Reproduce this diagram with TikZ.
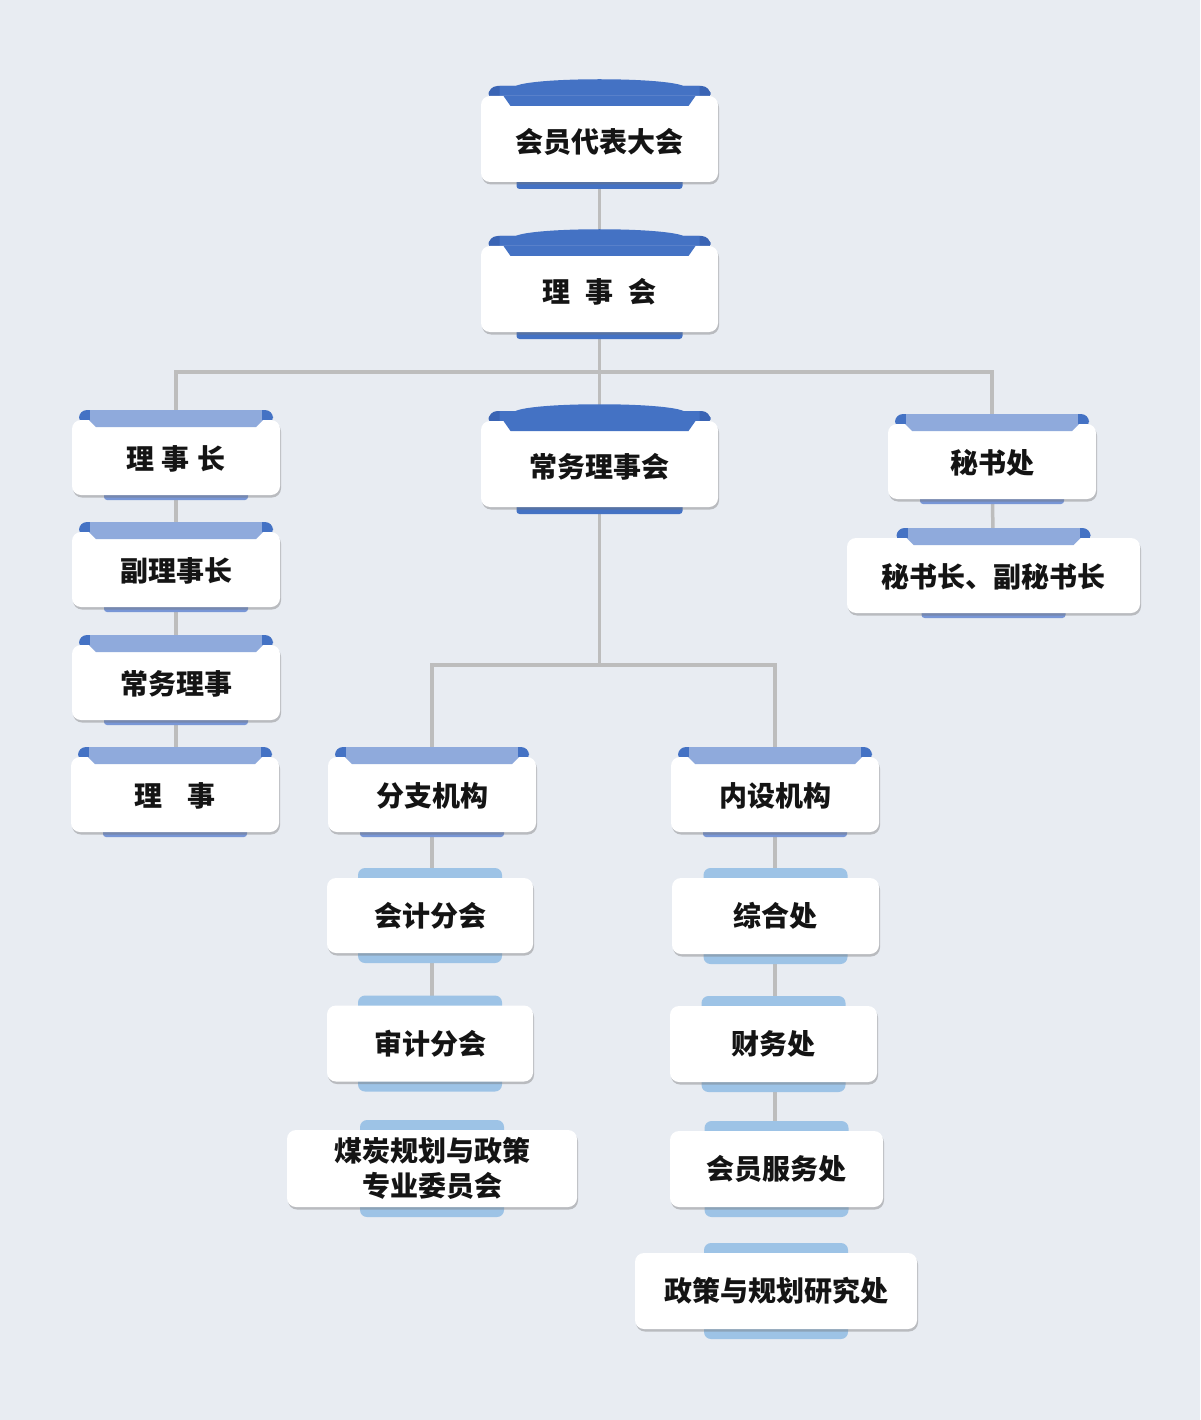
\documentclass[tikz,border=0pt]{standalone}
\usepackage{fontspec}
\newfontfamily\cjk{Noto Sans CJK SC}
\usetikzlibrary{shadows}
\definecolor{bgc}{HTML}{E8ECF2}
\definecolor{tabdark}{HTML}{4472C4}
\definecolor{tabdarkc}{HTML}{3A64B4}
\definecolor{tabmed}{HTML}{8FAADC}
\definecolor{tabmedbot}{HTML}{7896D6}
\definecolor{tablight}{HTML}{9DC3E6}
\definecolor{conncol}{HTML}{BDBDBD}
\pgfdeclarelayer{back}
\pgfdeclarelayer{lines}
\pgfsetlayers{back,lines,main}
\tikzset{
  wbox/.style={rectangle, rounded corners=9pt, fill=white, inner sep=0pt,
    font=\cjk\bfseries\fontsize{28}{35}\selectfont, text=black!92, align=center,
    drop shadow={opacity=0.4, shadow xshift=1pt, shadow yshift=-2.5pt, fill=black!55}},
  conn/.style={draw=conncol, line width=3.5pt}
}
% dark ribbon box: name, cx, cy, width, text
\newcommand{\DarkBox}[5]{%
  \fill[tabdarkc, rounded corners=9pt] ({#2-111},{#3-38}) rectangle ({#2+111},{#3-53});
  \fill[tabdark] ({#2-100},{#3-53}) -- ({#2-84},{#3-53})
     .. controls ({#2-64},{#3-62}) and ({#2+64},{#3-62}) .. ({#2+84},{#3-53})
     -- ({#2+100},{#3-53}) -- ({#2+100},{#3-40}) -- ({#2-100},{#3-40}) -- cycle;
  \fill[tabdark, rounded corners=3pt] ({#2-83},{#3+36}) rectangle ({#2+83},{#3+50});
  \node[wbox, minimum width=#4, minimum height=86] (#1) at (#2,#3) {\raisebox{-3pt}[\height][\depth]{#5}};
  \fill[tabdark] ({#2-96},{#3-43}) -- ({#2-89},{#3-33}) -- ({#2+89},{#3-33}) -- ({#2+96},{#3-43}) -- cycle;
}
% medium ribbon box
\newcommand{\MedBox}[5]{%
  \fill[tabdark, rounded corners=8pt] ({#2-97},{#3-33}) rectangle ({#2+97},{#3-47.5});
  \fill[tabmed] ({#2-86},{#3-47.5}) rectangle ({#2+86},{#3-36});
  \fill[tabmedbot, rounded corners=3pt] ({#2-72},{#3+30}) rectangle ({#2+72},{#3+42.5});
  \node[wbox, minimum width=#4, minimum height=75] (#1) at (#2,#3) {\raisebox{-1.5pt}[\height][\depth]{#5}};
  \fill[tabmed] ({#2-87},{#3-37.5}) -- ({#2-80},{#3-30.5}) -- ({#2+80},{#3-30.5}) -- ({#2+87},{#3-37.5}) -- cycle;
}
% light tab box
\newcommand{\LightBox}[6]{%
  \fill[tablight, rounded corners=7pt] ({#2-72},{#3-#5/2-10}) rectangle ({#2+72},{#3+#5/2+10});
  \node[wbox, minimum width=#4, minimum height=#5] (#1) at (#2,#3) {#6};
}
\begin{document}
\begin{tikzpicture}[x=1pt, y=-1pt]
\useasboundingbox (0,0) rectangle (1200,1420);
\begin{pgfonlayer}{back}
  \fill[bgc] (0,0) rectangle (1200,1420);
\end{pgfonlayer}

\DarkBox{dbdh}{599.5}{139}{237}{会员代表大会}
\DarkBox{lsh}{599.5}{289}{237}{理\hspace{15pt}事\hspace{15pt}会}
\DarkBox{cwlsh}{599.5}{464}{237}{常务理事会}

\MedBox{lsz}{176}{457.5}{208}{理\hspace{8pt}事\hspace{8pt}长}
\MedBox{flsz}{176}{569.5}{208}{副理事长}
\MedBox{cwls}{176}{682.5}{208}{常务理事}
\MedBox{ls}{175}{794.5}{208}{理\hspace{25pt}事}
\MedBox{msc}{992}{461.5}{208}{秘书处}
\MedBox{msz}{993.5}{575.5}{293}{秘书长、副秘书长}
\MedBox{fzjg}{432}{794.5}{208}{分支机构}
\MedBox{nsjg}{775}{794.5}{208}{内设机构}

\LightBox{kjfh}{430}{915.5}{206}{75}{会计分会}
\LightBox{sjfh}{430}{1043.5}{206}{76}{审计分会}
\LightBox{mtgh}{432}{1168.5}{290}{77}{煤炭规划与政策\\专业委员会}
\LightBox{zhc}{775.5}{916}{207}{76}{综合处}
\LightBox{cwc}{773.5}{1044}{207}{76}{财务处}
\LightBox{hyfw}{776.5}{1169}{213}{76}{会员服务处}
\LightBox{zcgh}{776}{1291}{282}{76}{政策与规划研究处}

\coordinate (bus1) at (599.5,372);
\coordinate (bus2) at (599.5,665);
\begin{pgfonlayer}{lines}
  \draw[conn] (dbdh.center) -- (lsh.center);
  \draw[conn] (lsh.center) -- (cwlsh.center);
  \draw[conn] (lsz.center) -- (lsz.center |- bus1) -- (msc.center |- bus1) -- (msc.center);
  \draw[conn] (lsz.center) -- (lsz.center |- ls.center);
  \draw[conn] (msc.center) -- (msz.center);
  \draw[conn] (cwlsh.center) -- (bus2);
  \draw[conn] (fzjg.center) -- (fzjg.center |- bus2) -- (nsjg.center |- bus2) -- (nsjg.center);
  \draw[conn] (fzjg.center) -- (fzjg.center |- sjfh.center);
  \draw[conn] (nsjg.center) -- (nsjg.center |- hyfw.center);
\end{pgfonlayer}
\end{tikzpicture}
\end{document}
